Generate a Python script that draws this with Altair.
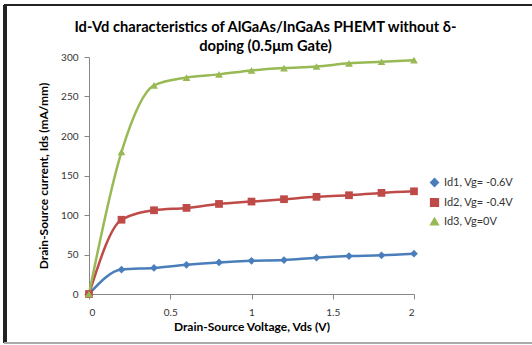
import altair as alt
import pandas as pd

vds = [0, 0.2, 0.4, 0.6, 0.8, 1.0, 1.2, 1.4, 1.6, 1.8, 2.0]
id1 = [0, 31, 33, 37, 40, 42, 43, 46, 48, 49, 51]
id2 = [0, 94, 106, 109, 114, 117, 120, 123, 125, 128, 130]
id3 = [0, 180, 264, 274, 278, 283, 286, 288, 292, 294, 296]
series_names = ["Id1, Vg= -0.6V", "Id2, Vg= -0.4V", "Id3, Vg=0V"]
colors = ["#4A7EBB", "#BE4B48", "#98B954"]
shapes = ["diamond", "square", "triangle-up"]

rows = []
for name, vals in zip(series_names, [id1, id2, id3]):
    for x, y in zip(vds, vals):
        rows.append({"Vds": x, "Ids": y, "series": name})
df = pd.DataFrame(rows)

xenc = alt.X("Vds:Q", scale=alt.Scale(domain=[0, 2], nice=False),
             axis=alt.Axis(title="Drain-Source Voltage, Vds (V)", values=[0, 0.5, 1, 1.5, 2],
                           format="~g", grid=False, domainColor="#868686", tickColor="#868686",
                           tickSize=5, labelPadding=8, labelFontSize=10, labelColor="#333333",
                           titleFontSize=12, titleFontWeight="bold", titleColor="#000000",
                           titlePadding=4, labelFont="Lato", titleFont="Lato"))
yenc = alt.Y("Ids:Q", scale=alt.Scale(domain=[0, 300], nice=False),
             axis=alt.Axis(title="Drain-Source current, Ids (mA/mm)", values=[0, 50, 100, 150, 200, 250, 300],
                           grid=False, domainColor="#868686", tickColor="#868686",
                           tickSize=5, labelPadding=6, labelFontSize=10, labelColor="#333333",
                           titleFontSize=12, titleFontWeight="bold", titleColor="#000000",
                           titlePadding=10, labelFont="Lato", titleFont="Lato"))
cenc = alt.Color("series:N", scale=alt.Scale(domain=series_names, range=colors),
                 legend=alt.Legend(title=None, labelFont="Lato", labelFontSize=11, labelColor="#333333",
                                   symbolSize=60, rowPadding=5, orient="none",
                                   legendX=340, legendY=120))
senc = alt.Shape("series:N", scale=alt.Scale(domain=series_names, range=shapes))

lines = alt.Chart(df).mark_line(interpolate="monotone", strokeWidth=2.5).encode(
    x=xenc, y=yenc, color=cenc, detail="series:N")
points = alt.Chart(df).mark_point(filled=True, size=60, opacity=1).encode(
    x=xenc, y=yenc, color=cenc, shape=senc)

frame_top = alt.Chart(df).mark_rule(color="#222222", strokeWidth=2).encode(
    x=alt.value(-85), x2=alt.value(450), y=alt.value(-52))
frame_left = alt.Chart(df).mark_rule(color="#222222", strokeWidth=3).encode(
    x=alt.value(-84), y=alt.value(-52), y2=alt.value(286))
frame_bottom = alt.Chart(df).mark_rule(color="#aaaaaa", strokeWidth=1).encode(
    x=alt.value(-85), x2=alt.value(450), y=alt.value(286))

chart = alt.layer(frame_top, frame_left, frame_bottom, lines, points).properties(
    width=325, height=237,
    title=alt.TitleParams(
        text=["Id-Vd characteristics of AlGaAs/InGaAs PHEMT without δ-", "doping (0.5μm Gate)"],
        font="Lato", fontSize=14.7, fontWeight="bold", color="#000000",
        anchor="middle", dx=14, offset=-50, lineHeight=19),
    autosize=alt.AutoSizeParams(type="none"),
    padding={"left": 89, "top": 57, "right": 118, "bottom": 51},
).configure_view(stroke=None)

chart.save("out.html", embed_options={"renderer": "svg", "actions": False})
